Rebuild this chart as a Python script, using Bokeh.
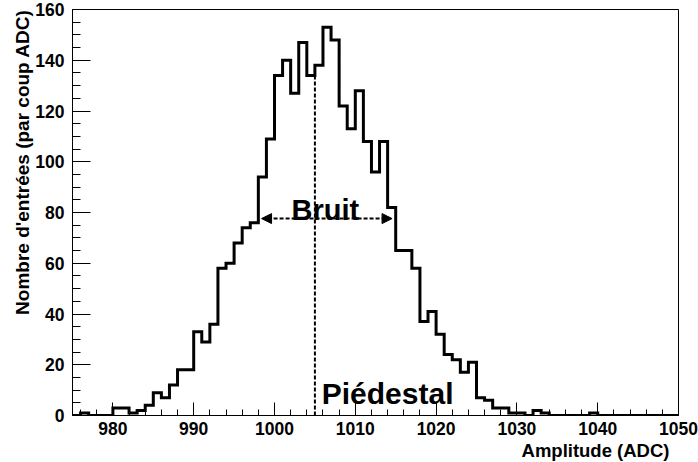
from bokeh.plotting import figure
from bokeh.models import Range1d, FixedTicker, Arrow, NormalHead, Label, Title
from bokeh.embed import file_html
from bokeh.resources import INLINE

# ---- data (bin low edges, width 1 ADC) ----
amplitude = list(range(975, 1050))
counts = [0, 1, 0, 0, 0, 3, 3, 1, 2, 4,
          9, 7, 12, 18, 18, 33, 29, 36, 58, 60,
          68, 74, 76, 94, 109, 134, 140, 127, 147, 134,
          138, 153, 148, 122, 113, 128, 108, 96, 108, 82,
          65, 65, 58, 37, 41, 32, 24, 22, 17, 21,
          7, 6, 3, 3, 1, 1, 0, 2, 1, 0,
          0, 0, 0, 0, 1, 0, 0, 0, 0, 0,
          0, 0, 0, 0, 0]
bin_width = 1

x_ticks = [980, 990, 1000, 1010, 1020, 1030, 1040, 1050]
x_minor = [976, 978, 980, 982, 984, 986, 988, 990, 992, 994, 996, 998, 1000,
           1002, 1004, 1006, 1008, 1010, 1012, 1014, 1016, 1018, 1020, 1022,
           1024, 1026, 1028, 1030, 1032, 1034, 1036, 1038, 1040, 1042, 1044,
           1046, 1048, 1050]
y_ticks = [0, 20, 40, 60, 80, 100, 120, 140, 160]
y_minor = [0, 5, 10, 15, 20, 25, 30, 35, 40, 45, 50, 55, 60, 65, 70, 75, 80,
           85, 90, 95, 100, 105, 110, 115, 120, 125, 130, 135, 140, 145, 150,
           155, 160]

x_title = "Amplitude (ADC)"
y_title = "Nombre d'entrées (par coup ADC)"

pedestal = 1005
noise_lo, noise_hi, noise_level = 998.4, 1014.55, 77.6
bruit_x, bruit_y = 1006.3, 81
ped_x, ped_y = 1005.85, 8.5

FONT = "Liberation Sans"

p = figure(width=698, height=462, output_backend="svg", toolbar_location=None,
           x_range=Range1d(975, 1050), y_range=Range1d(0, 160),
           min_border_left=72, min_border_right=20, min_border_top=9,
           min_border_bottom=47)
p.background_fill_color = "white"
p.border_fill_color = "white"
p.xgrid.visible = False
p.ygrid.visible = False
p.outline_line_color = "black"
p.outline_line_width = 1

# histogram outline
edges = amplitude + [amplitude[-1] + bin_width]
levels = counts + [counts[-1]]
p.step(edges, levels, mode="after", line_color="black", line_width=3,
       line_join="miter")

# pedestal dashed line
i_ped = amplitude.index(pedestal)
ped_top = min(counts[i_ped - 1], counts[i_ped])
p.segment(x0=[pedestal], y0=[0], x1=[pedestal], y1=[ped_top],
          line_color="black", line_width=2, line_dash="4 2")

# noise arrow
arrow = Arrow(start=NormalHead(size=10, fill_color="black", line_color="black"),
              end=NormalHead(size=10, fill_color="black", line_color="black"),
              x_start=noise_lo, y_start=noise_level,
              x_end=noise_hi, y_end=noise_level,
              line_color="black", line_width=2, line_dash="4 2")
p.add_layout(arrow)

p.add_layout(Label(x=bruit_x, y=bruit_y, text="Bruit", text_font=FONT,
                   text_font_style="bold", text_font_size="29px",
                   text_color="black",
                   text_align="center", text_baseline="alphabetic"))
p.add_layout(Label(x=ped_x, y=ped_y, text="Piédestal", text_font=FONT,
                   text_font_style="bold", text_font_size="30px",
                   text_color="black",
                   text_align="left", text_baseline="alphabetic"))

# axes
p.xaxis.ticker = FixedTicker(ticks=x_ticks, minor_ticks=x_minor)
p.yaxis.ticker = FixedTicker(ticks=y_ticks, minor_ticks=y_minor)
for ax in (p.xaxis, p.yaxis):
    ax.axis_line_color = "black"
    ax.major_tick_line_color = "black"
    ax.minor_tick_line_color = "black"
    ax.major_tick_out = 0
    ax.minor_tick_out = 0
    ax.major_label_text_font = FONT
    ax.major_label_text_font_style = "bold"
    ax.major_label_text_font_size = "17.5px"
    ax.major_label_text_color = "black"

p.xaxis.major_tick_in = 13
p.xaxis.minor_tick_in = 6
p.yaxis.major_tick_in = 18
p.yaxis.minor_tick_in = 8
p.xaxis.major_label_standoff = 6
p.yaxis.major_label_standoff = 8

# axis titles, aligned at the high end of each axis as in the original
p.add_layout(Title(text=x_title, align="right", text_font=FONT,
                   text_font_style="bold", text_font_size="18.5px",
                   text_color="black", standoff=0, offset=9), "below")
p.add_layout(Title(text=y_title, align="right", text_font=FONT,
                   text_font_style="bold", text_font_size="19px",
                   text_color="black", standoff=0, offset=0), "left")

open("out.html", "w").write(file_html(p, INLINE))
